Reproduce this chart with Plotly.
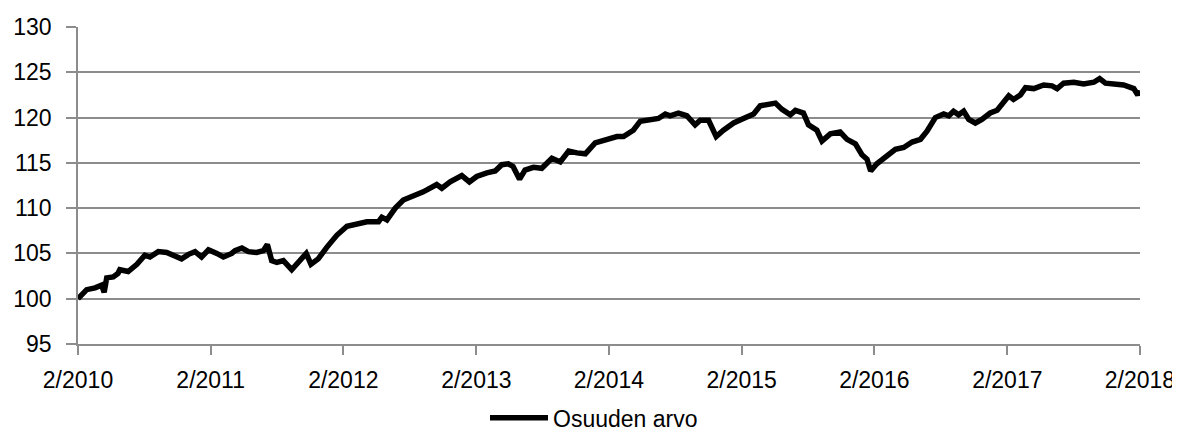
import plotly.graph_objects as go

# Fund unit value ("Osuuden arvo")
dates = [
    "2010-02-01", "2010-02-25", "2010-03-20", "2010-04-07", "2010-04-14", "2010-04-21",
    "2010-05-09", "2010-05-22", "2010-05-27", "2010-06-19", "2010-07-13", "2010-08-04",
    "2010-08-18", "2010-09-10", "2010-10-03", "2010-10-21", "2010-11-13", "2010-12-02",
    "2010-12-20", "2011-01-07", "2011-01-26", "2011-02-18", "2011-03-08", "2011-03-31",
    "2011-04-09", "2011-04-28", "2011-05-16", "2011-06-08", "2011-06-26", "2011-07-07",
    "2011-07-19", "2011-08-02", "2011-08-20", "2011-09-12", "2011-10-05", "2011-10-22",
    "2011-11-04", "2011-11-24", "2011-12-18", "2012-01-14", "2012-02-11", "2012-03-09",
    "2012-04-06", "2012-05-08", "2012-05-17", "2012-05-31", "2012-06-23", "2012-07-15",
    "2012-08-12", "2012-09-08", "2012-10-15", "2012-10-29", "2012-11-21", "2012-12-23",
    "2013-01-13", "2013-02-02", "2013-03-02", "2013-03-25", "2013-04-12", "2013-04-30",
    "2013-05-13", "2013-05-31", "2013-06-15", "2013-07-08", "2013-07-31", "2013-08-28",
    "2013-09-20", "2013-10-13", "2013-11-05", "2013-11-28", "2013-12-25", "2014-01-26",
    "2014-02-23", "2014-03-13", "2014-04-09", "2014-04-28", "2014-05-25", "2014-06-17",
    "2014-07-06", "2014-07-19", "2014-08-11", "2014-09-03", "2014-09-26", "2014-10-10",
    "2014-11-02", "2014-11-23", "2014-12-13", "2015-01-10", "2015-02-06", "2015-03-06",
    "2015-03-24", "2015-04-16", "2015-05-05", "2015-05-23", "2015-06-15", "2015-06-29",
    "2015-07-21", "2015-08-04", "2015-08-27", "2015-09-10", "2015-10-03", "2015-10-30",
    "2015-11-18", "2015-12-11", "2015-12-29", "2016-01-12", "2016-01-22", "2016-02-08",
    "2016-03-02", "2016-03-30", "2016-04-22", "2016-05-15", "2016-06-07", "2016-06-25",
    "2016-07-18", "2016-08-10", "2016-08-24", "2016-09-06", "2016-09-20", "2016-10-04",
    "2016-10-18", "2016-11-05", "2016-11-23", "2016-12-16", "2017-01-04", "2017-01-22",
    "2017-02-05", "2017-02-18", "2017-03-09", "2017-03-23", "2017-04-15", "2017-05-12",
    "2017-06-04", "2017-06-18", "2017-07-06", "2017-08-03", "2017-08-30", "2017-09-27",
    "2017-10-13", "2017-10-29", "2017-11-21", "2017-12-18", "2018-01-15", "2018-01-26",
    "2018-01-31",
]
values = [
    100.0, 101.0, 101.2, 101.5, 100.7, 102.3,
    102.4, 102.8, 103.2, 103.0, 103.8, 104.8,
    104.6, 105.2, 105.1, 104.8, 104.4, 104.9,
    105.2, 104.6, 105.4, 105.0, 104.6, 105.0,
    105.3, 105.6, 105.2, 105.1, 105.3, 106.0,
    104.2, 104.0, 104.2, 103.2, 104.2, 105.0,
    103.8, 104.4, 105.7, 107.0, 108.0, 108.2,
    108.5, 108.5, 109.0, 108.7, 110.0, 110.9,
    111.3, 111.8, 112.6, 112.2, 112.9, 113.6,
    112.9, 113.5, 113.9, 114.1, 114.8, 114.9,
    114.6, 113.2, 114.2, 114.5, 114.4, 115.5,
    115.1, 116.3, 116.1, 116.0, 117.2, 117.6,
    117.9, 117.9, 118.6, 119.6, 119.8, 119.9,
    120.4, 120.2, 120.5, 120.2, 119.2, 119.7,
    119.7, 117.9, 118.6, 119.4, 119.9, 120.4,
    121.3, 121.4, 121.6, 120.9, 120.3, 120.8,
    120.5, 119.2, 118.6, 117.4, 118.2, 118.4,
    117.6, 117.1, 115.9, 115.4, 114.1, 114.9,
    115.7, 116.5, 116.7, 117.3, 117.6, 118.5,
    120.0, 120.4, 120.2, 120.7, 120.3, 120.7,
    119.8, 119.4, 119.8, 120.5, 120.8, 121.6,
    122.4, 122.0, 122.5, 123.3, 123.2, 123.6,
    123.5, 123.2, 123.8, 123.9, 123.7, 123.9,
    124.3, 123.8, 123.7, 123.6, 123.2, 122.5,
    123.0,
]
series_name = "Osuuden arvo"

tick_dates = ["2010-02-01", "2011-02-01", "2012-02-01", "2013-02-01", "2014-02-01",
              "2015-02-01", "2016-02-01", "2017-02-01", "2018-02-01"]
tick_labels = ["2/2010", "2/2011", "2/2012", "2/2013", "2/2014",
               "2/2015", "2/2016", "2/2017", "2/2018"]

FONT = "Liberation Sans Narrow, Arial Narrow, Liberation Sans, Arial, sans-serif"
FSIZE = 23
GRID = "#8c8c8c"

fig = go.Figure()
fig.add_trace(go.Scatter(
    x=dates, y=values, mode="lines", name=series_name,
    line=dict(color="black", width=5.5),
    cliponaxis=False,
))

# The page body has an 8px default margin, so the figure is 8px smaller
fig.update_layout(
    width=1172, height=427,
    margin=dict(l=70, r=40, t=19, b=91, autoexpand=False),
    paper_bgcolor="white", plot_bgcolor="white",
    font=dict(family=FONT, size=FSIZE, color="black"),
    showlegend=True,
    legend=dict(
        orientation="h", x=0.5, xanchor="center", xref="container",
        y=0.04, yanchor="middle", yref="container",
        font=dict(family=FONT, size=FSIZE, color="black"),
        itemwidth=58, bgcolor="rgba(0,0,0,0)",
    ),
)
fig.update_xaxes(
    type="date", range=["2010-02-01", "2018-02-01 02:00"],
    tickmode="array", tickvals=tick_dates, ticktext=tick_labels,
    showgrid=False, zeroline=False, automargin=False,
    showline=True, linecolor=GRID, linewidth=1.5,
    ticks="outside", ticklen=9, tickcolor=GRID, tickwidth=1.5,
    ticklabelstandoff=6,
    tickfont=dict(family=FONT, size=FSIZE, color="black"),
)
fig.update_yaxes(
    range=[95, 130], tick0=95, dtick=5,
    showgrid=True, gridcolor=GRID, gridwidth=1.5, zeroline=False, automargin=False,
    showline=True, linecolor=GRID, linewidth=1.5,
    ticks="outside", ticklen=10, tickcolor=GRID, tickwidth=1.5,
    ticklabelstandoff=10,
    tickfont=dict(family=FONT, size=FSIZE, color="black"),
)

fig.write_html("out.html")
